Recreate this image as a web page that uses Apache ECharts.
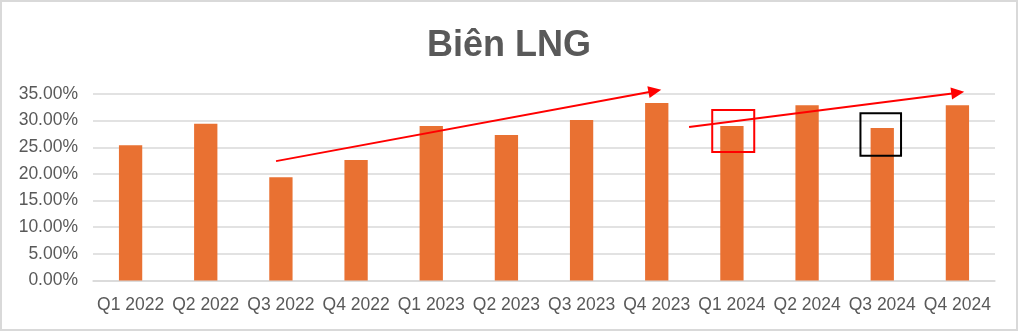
<!DOCTYPE html>
<html>
<head>
<meta charset="utf-8">
<title>Biên LNG</title>
<script src="https://cdn.jsdelivr.net/npm/echarts@6/dist/echarts.min.js"></script>
<style>
  html, body { margin: 0; padding: 0; background: #fff; }
  #chart { width: 1018px; height: 331px; box-sizing: border-box; border: 2px solid #d9d9d9; }
</style>
</head>
<body>
<div id="chart"></div>
<script>
// Quarterly LNG margin (%)
const quarters = ['Q1 2022', 'Q2 2022', 'Q3 2022', 'Q4 2022', 'Q1 2023', 'Q2 2023',
                  'Q3 2023', 'Q4 2023', 'Q1 2024', 'Q2 2024', 'Q3 2024', 'Q4 2024'];
const margins = [25.4, 29.4, 19.4, 22.6, 29.0, 27.3, 30.1, 33.3, 29.0, 32.9, 28.6, 32.9];
const yTicks = { min: 0, max: 35, step: 5 };

// Trend arrows: [fromCategoryIndex, fromValue, toCategoryIndex, toValue]
const trendArrows = [
  [1.935, 22.4, 7.06, 35.8],
  [7.43, 28.8, 11.09, 35.4]
];
// Highlight boxes: [leftCategoryIndex, rightCategoryIndex, topValue, bottomValue, colour]
const highlightBoxes = [
  [7.738, 8.297, 32.0, 24.1, '#ff0000'],
  [9.71, 10.25, 31.4, 23.4, '#000000']
];

const chart = echarts.init(document.getElementById('chart'), null, { renderer: 'canvas' });

// Converts a (fractional category index, value) pair to pixels
function toPixel(api, idx, val) {
  const base = api.coord([0, val]);
  const band = api.size([1, 0])[0];
  return [base[0] + idx * band, base[1]];
}

chart.setOption({
  animation: false,
  title: {
    text: 'Biên LNG',
    left: 'center',
    top: 21,
    textStyle: { fontFamily: 'Liberation Sans', fontSize: 36, fontWeight: 'bold', color: '#595959' }
  },
  grid: { left: 91, right: 21, top: 92, bottom: 48.5, containLabel: false },
  xAxis: {
    type: 'category',
    data: quarters,
    axisLine: { lineStyle: { color: '#d9d9d9', width: 1.5 } },
    axisTick: { show: false },
    axisLabel: { color: '#595959', fontFamily: 'Liberation Sans', fontSize: 17.5, margin: 16, interval: 0 }
  },
  yAxis: {
    type: 'value',
    min: yTicks.min,
    max: yTicks.max,
    interval: yTicks.step,
    axisLine: { show: false },
    axisTick: { show: false },
    splitLine: { lineStyle: { color: '#d9d9d9', width: 1.5 } },
    axisLabel: {
      color: '#595959', fontFamily: 'Liberation Sans', fontSize: 17.5, margin: 15,
      formatter: v => v.toFixed(2) + '%'
    }
  },
  series: [
    {
      type: 'bar',
      data: margins,
      barWidth: '31%',
      itemStyle: { color: '#e97132' }
    },
    {
      type: 'custom',
      silent: true,
      clip: false,
      z: 5,
      data: trendArrows.map(() => [0, 0]),
      renderItem: function (params, api) {
        const a = trendArrows[params.dataIndex];
        const p1 = toPixel(api, a[0], a[1]);
        const p2 = toPixel(api, a[2], a[3]);
        const dx = p2[0] - p1[0], dy = p2[1] - p1[1];
        const len = Math.sqrt(dx * dx + dy * dy);
        const ux = dx / len, uy = dy / len;
        const headLen = 13, headHalf = 6;
        const bx = p2[0] - ux * headLen, by = p2[1] - uy * headLen;
        return {
          type: 'group',
          children: [
            {
              type: 'line',
              shape: { x1: p1[0], y1: p1[1], x2: bx + ux * 1, y2: by + uy * 1 },
              style: { stroke: '#ff0000', lineWidth: 2 }
            },
            {
              type: 'polygon',
              shape: { points: [[p2[0], p2[1]], [bx - uy * headHalf, by + ux * headHalf], [bx + uy * headHalf, by - ux * headHalf]] },
              style: { fill: '#ff0000' }
            }
          ]
        };
      }
    },
    {
      type: 'custom',
      silent: true,
      clip: false,
      z: 5,
      data: highlightBoxes.map(() => [0, 0]),
      renderItem: function (params, api) {
        const b = highlightBoxes[params.dataIndex];
        const tl = toPixel(api, b[0], b[2]);
        const br = toPixel(api, b[1], b[3]);
        return {
          type: 'rect',
          shape: { x: tl[0], y: tl[1], width: br[0] - tl[0], height: br[1] - tl[1] },
          style: { fill: 'none', stroke: b[4], lineWidth: 2 }
        };
      }
    }
  ]
});
</script>
</body>
</html>
